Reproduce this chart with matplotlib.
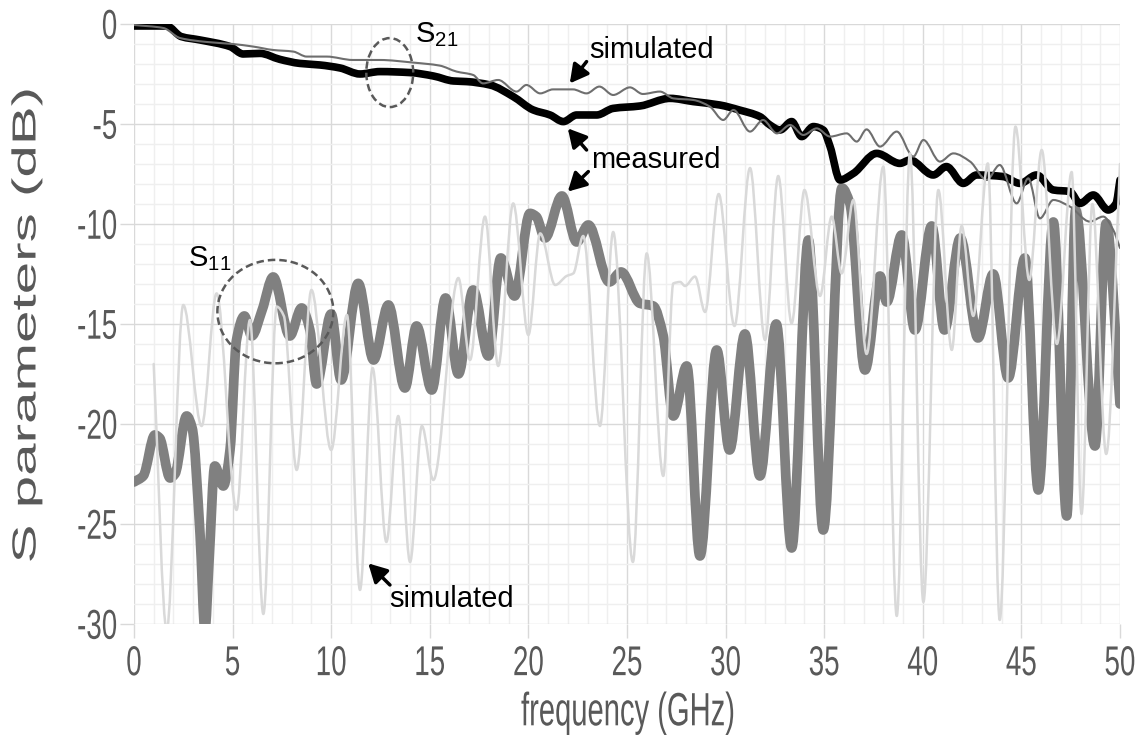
import numpy as np
import matplotlib
matplotlib.use("Agg")
import matplotlib.pyplot as plt
from matplotlib.path import Path
from matplotlib.patches import PathPatch, Ellipse
from matplotlib.ticker import MultipleLocator
from matplotlib.patheffects import AbstractPathEffect
from matplotlib.transforms import Affine2D

plt.rcParams["font.family"] = ["Liberation Sans", "DejaVu Sans"]
plt.rcParams["mathtext.default"] = "regular"
plt.rcParams["axes.unicode_minus"] = False

# ---- S21 (transmission) ----
s21_meas_f = [0, 1.66, 2.4, 3.35, 4.87, 5.54, 6.39, 7.4, 8.4, 9.43, 10.45, 11.46,
              12.47, 14.0, 15.18, 16.2, 16.87, 18.05, 19.23, 20.25, 21.1, 21.77,
              22.45, 23.46, 24.3, 25.66, 27.18, 28.36, 29.7, 30.7, 31.74, 32.25,
              32.76, 33.35, 33.86, 34.45, 34.95, 35.3, 35.8, 36.48, 37.66, 38.84,
              39.35, 40.53, 41.2, 42.05, 42.73, 44.08, 44.93, 45.77, 46.62, 47.46,
              47.97, 48.65, 49.4, 49.8, 50.0]
s21_meas_db = [-0.1, -0.1, -0.63, -0.8, -1.13, -1.5, -1.47, -1.77, -1.97, -2.05, -2.2,
               -2.5, -2.38, -2.43, -2.6, -2.85, -2.88, -3.05, -3.63, -4.3, -4.55, -4.88,
               -4.55, -4.55, -4.22, -4.1, -3.72, -3.88, -4.05, -4.3, -4.63, -5.05,
               -5.3, -4.88, -5.63, -5.13, -5.3, -6.13, -7.8, -7.47, -6.47, -6.97,
               -6.8, -7.55, -7.13, -7.97, -7.55, -7.63, -7.97, -7.55, -8.3, -8.38,
               -8.97, -8.55, -9.3, -8.97, -7.8]

s21_sim_f = [0, 1.49, 2.33, 3.7, 5.0, 6.05, 7.06, 8.08, 8.76, 9.77, 11.1, 12.47,
             14.16, 15.5, 16.36, 17.2, 17.7, 18.47, 19.4, 19.9, 20.6, 21.25, 22.26,
             22.95, 23.6, 24.3, 25.15, 25.8, 26.67, 27.35, 28.36, 29.2, 29.88, 30.4,
             31.24, 31.9, 32.6, 33.27, 33.94, 34.62, 35.3, 36.14, 36.65, 37.15,
             37.83, 38.68, 39.52, 40.03, 40.87, 41.55, 42.4, 43.24, 43.9, 44.76,
             45.35, 45.94, 46.62, 47.46, 48.47, 49.15, 49.66, 50.0]
s21_sim_db = [-0.05, -0.2, -0.7, -0.9, -1.0, -1.13, -1.3, -1.38, -1.63, -1.63, -1.8,
              -1.8, -1.93, -2.08, -2.38, -2.55, -2.97, -2.8, -3.38, -3.05, -3.47,
              -3.27, -3.27, -3.47, -3.13, -3.55, -3.17, -3.5, -3.38, -3.72, -3.8,
              -4.13, -4.8, -4.3, -5.38, -4.8, -5.47, -5.05, -5.55, -5.22, -5.63,
              -5.47, -5.88, -5.27, -6.13, -5.38, -6.63, -5.8, -6.88, -6.47, -6.88,
              -7.8, -7.05, -8.97, -7.72, -9.72, -8.8, -9.13, -9.88, -9.63, -10.3,
              -11.2]

# ---- S11 (reflection) ----
s11_meas_f = [0.0, 0.47, 1.06, 1.3, 1.83, 2.08, 2.67, 2.95, 3.35, 3.6, 3.8, 4.1,
              4.53, 4.87, 5.2, 5.6, 5.97, 6.5, 7.06, 7.9, 8.5, 8.92, 9.26, 10.0,
              10.5, 11.37, 12.15, 12.9, 13.74, 14.33, 15.1, 15.8, 16.45, 17.2,
              17.97, 18.6, 19.3, 20.08, 20.4, 20.84, 21.7, 22.45, 23.04, 24.1,
              24.7, 25.66, 26.33, 26.84, 27.35, 28.03, 28.7, 29.55, 30.2, 30.98,
              31.74, 32.57, 33.35, 34.2, 34.95, 35.9, 36.3, 37.07, 37.83, 38.17,
              38.93, 39.6, 40.45, 41.1, 41.9, 42.8, 43.57, 44.33, 45.18, 45.86,
              46.62, 47.3, 47.75, 48.73, 49.3, 50.0]
s11_meas_db = [-22.9, -22.6, -20.55, -20.7, -22.7, -22.5, -19.6, -20.2, -25.5, -30.3,
               -27.0, -22.1, -23.1, -21.3, -15.8, -14.6, -15.6, -14.3, -12.65,
               -15.6, -14.2, -15.3, -18.0, -14.5, -17.8, -12.97, -16.8, -14.05,
               -18.2, -15.1, -18.3, -13.7, -17.5, -13.3, -16.6, -11.7, -13.6,
               -9.47, -9.63, -10.7, -8.6, -10.9, -10.05, -12.9, -12.4, -13.97,
               -14.1, -15.6, -19.6, -17.1, -26.6, -16.3, -21.3, -15.5, -22.6,
               -15.0, -26.2, -10.8, -25.3, -8.2, -8.97, -17.3, -12.6, -13.9, -10.55,
               -15.3, -10.1, -15.3, -10.7, -15.7, -12.5, -17.7, -11.7, -23.3, -9.9,
               -24.6, -9.3, -21.1, -9.97, -19.0]

s11_sim_f = [1.0, 1.66, 2.5, 3.43, 4.19, 5.2, 5.88, 6.56, 7.24, 7.6, 8.25, 9.0,
             10.0, 10.8, 11.46, 12.1, 12.8, 13.4, 14.0, 14.6, 15.18, 16.45, 17.04,
             17.8, 18.47, 19.23, 20.0, 20.6, 21.36, 21.94, 22.28, 22.78, 23.63,
             24.3, 25.3, 26.0, 26.84, 27.35, 27.7, 27.94, 28.45, 28.96, 29.65,
             30.45, 31.24, 32.0, 32.67, 33.35, 34.0, 34.79, 35.38, 35.89, 36.48,
             37.15, 38.0, 38.68, 39.35, 40.03, 40.79, 41.47, 41.97, 42.56, 43.3,
             43.9, 44.7, 45.4, 46.03, 46.8, 47.55, 48.05, 48.6, 49.3, 50.0]
s11_sim_db = [-17.0, -30.3, -14.05, -20.1, -13.47, -24.3, -14.8, -29.5, -14.13,
              -14.6, -22.3, -13.3, -21.3, -14.55, -28.3, -17.2, -25.9, -19.6,
              -26.9, -20.1, -22.8, -12.7, -16.8, -9.63, -17.1, -8.97, -15.55,
              -10.47, -13.05, -12.6, -12.47, -10.6, -20.1, -10.4, -26.9, -11.47,
              -22.6, -12.97, -12.9, -13.1, -12.63, -14.4, -8.5, -15.1, -7.2, -15.8,
              -7.6, -14.97, -8.3, -13.6, -9.63, -12.47, -8.8, -16.5, -7.13, -29.6,
              -6.47, -28.9, -8.3, -16.3, -10.1, -14.6, -6.97, -29.8, -5.13, -12.8,
              -6.3, -16.0, -7.4, -24.5, -9.0, -21.5, -7.0]

x_ticks = [0, 5, 10, 15, 20, 25, 30, 35, 40, 45, 50]
y_ticks = [-30, -25, -20, -15, -10, -5, 0]

LABEL_GRAY = "#595959"


class TallText(AbstractPathEffect):
    """Draws text glyphs stretched vertically about their own centre."""

    def __init__(self, sy):
        super().__init__()
        self.sy = sy

    def draw_path(self, renderer, gc, tpath, affine, rgbFace=None):
        bb = tpath.get_extents(affine)
        cy = 0.5 * (bb.y0 + bb.y1)
        t = affine + Affine2D().translate(0, -cy).scale(1, self.sy).translate(0, cy)
        renderer.draw_path(gc, tpath, t, rgbFace)


def smooth_path(x, y):
    """Monotone cubic (PCHIP-style) Bezier path through the points."""
    x = np.asarray(x, float)
    y = np.asarray(y, float)
    h = np.diff(x)
    d = np.diff(y) / h
    n = len(x)
    m = np.zeros(n)
    m[0], m[-1] = d[0], d[-1]
    for k in range(1, n - 1):
        if d[k - 1] * d[k] > 0:
            w1 = 2 * h[k] + h[k - 1]
            w2 = h[k] + 2 * h[k - 1]
            m[k] = (w1 + w2) / (w1 / d[k - 1] + w2 / d[k])
    verts = [(x[0], y[0])]
    codes = [Path.MOVETO]
    for i in range(n - 1):
        dx = h[i] / 3.0
        verts += [(x[i] + dx, y[i] + m[i] * dx),
                  (x[i + 1] - dx, y[i + 1] - m[i + 1] * dx),
                  (x[i + 1], y[i + 1])]
        codes += [Path.CURVE4] * 3
    return Path(verts, codes)


fig = plt.figure(figsize=(11.48, 7.38), dpi=100)
ax = fig.add_axes([0.1167, 0.1545, 0.8589, 0.813])


def draw_curve(x, y, color, lw, z):
    patch = PathPatch(smooth_path(x, y), fill=False, edgecolor=color, linewidth=lw,
                      capstyle="round", joinstyle="round", zorder=z,
                      transform=ax.transData)
    ax.add_patch(patch)


draw_curve(s11_meas_f, s11_meas_db, "#808080", 7.0, 3)
draw_curve(s21_meas_f, s21_meas_db, "black", 5.5, 4)
draw_curve(s21_sim_f, s21_sim_db, "#6e6e6e", 1.5, 5)
draw_curve(s11_sim_f, s11_sim_db, "#d9d9d9", 1.8, 6)

ax.set_xlim(0, 50)
ax.set_ylim(-30, 0)
ax.set_xticks(x_ticks)
ax.set_yticks(y_ticks)
ax.xaxis.set_minor_locator(MultipleLocator(1))
ax.yaxis.set_minor_locator(MultipleLocator(1))
ax.grid(which="major", color="#d9d9d9", linewidth=1.0, zorder=0)
ax.grid(which="minor", color="#efefef", linewidth=1.0, zorder=0)
ax.set_axisbelow(True)
for s in ax.spines.values():
    s.set_visible(False)
ax.tick_params(which="major", length=10, width=1.0, color="#d9d9d9",
               labelcolor=LABEL_GRAY, labelsize=20)
ax.tick_params(axis="y", which="major", pad=2)
ax.tick_params(axis="x", which="major", pad=9)
ax.tick_params(which="minor", length=0)

tick_fx = [TallText(1.5)]
for lbl in ax.get_xticklabels() + ax.get_yticklabels():
    lbl.set_path_effects(tick_fx)

ax.set_xlabel("frequency (GHz)", fontsize=21, color=LABEL_GRAY)
ax.xaxis.label.set_va("center")
ax.xaxis.set_label_coords(0.501, -0.148)
ax.xaxis.label.set_path_effects([TallText(1.6)])
ax.set_ylabel("S parameters (dB)", fontsize=24, color=LABEL_GRAY)
ax.yaxis.label.set_va("center")
ax.yaxis.set_label_coords(-0.1085, 0.498)
ax.yaxis.label.set_path_effects([TallText(1.75)])

# Group labels and dashed ellipses
ax.text(14.25, -0.9, "S$_{21}$", fontsize=21, color="black", zorder=8)
ax.add_patch(Ellipse((12.97, -2.43), 2.38, 3.45, fill=False, edgecolor="#595959",
                     linewidth=1.8, linestyle=(0, (3, 1.6)), zorder=8))
ax.text(2.74, -12.13, "S$_{11}$", fontsize=21, color="black", zorder=8)
ax.add_patch(Ellipse((7.17, -14.38), 5.88, 5.17, fill=False, edgecolor="#595959",
                     linewidth=1.8, linestyle=(0, (3, 1.6)), zorder=8))

arrow = dict(arrowstyle="-|>,head_length=0.55,head_width=0.3", lw=2.5,
             color="black", shrinkA=0, shrinkB=0, mutation_scale=20)

ax.text(23.07, -1.72, "simulated", fontsize=21, color="black", zorder=8)
ax.annotate("", xy=(22.1, -2.97), xytext=(22.95, -1.88), arrowprops=arrow, zorder=8)

ax.text(23.2, -7.22, "measured", fontsize=21, color="black", zorder=8)
ax.annotate("", xy=(22.0, -5.22), xytext=(22.95, -6.3), arrowprops=arrow, zorder=8)
ax.annotate("", xy=(22.0, -8.38), xytext=(23.04, -7.38), arrowprops=arrow, zorder=8)

ax.text(12.95, -29.13, "simulated", fontsize=21, color="black", zorder=8)
ax.annotate("", xy=(11.88, -26.97), xytext=(12.98, -28.05), arrowprops=arrow, zorder=8)

fig.savefig("out.png", dpi=100)
